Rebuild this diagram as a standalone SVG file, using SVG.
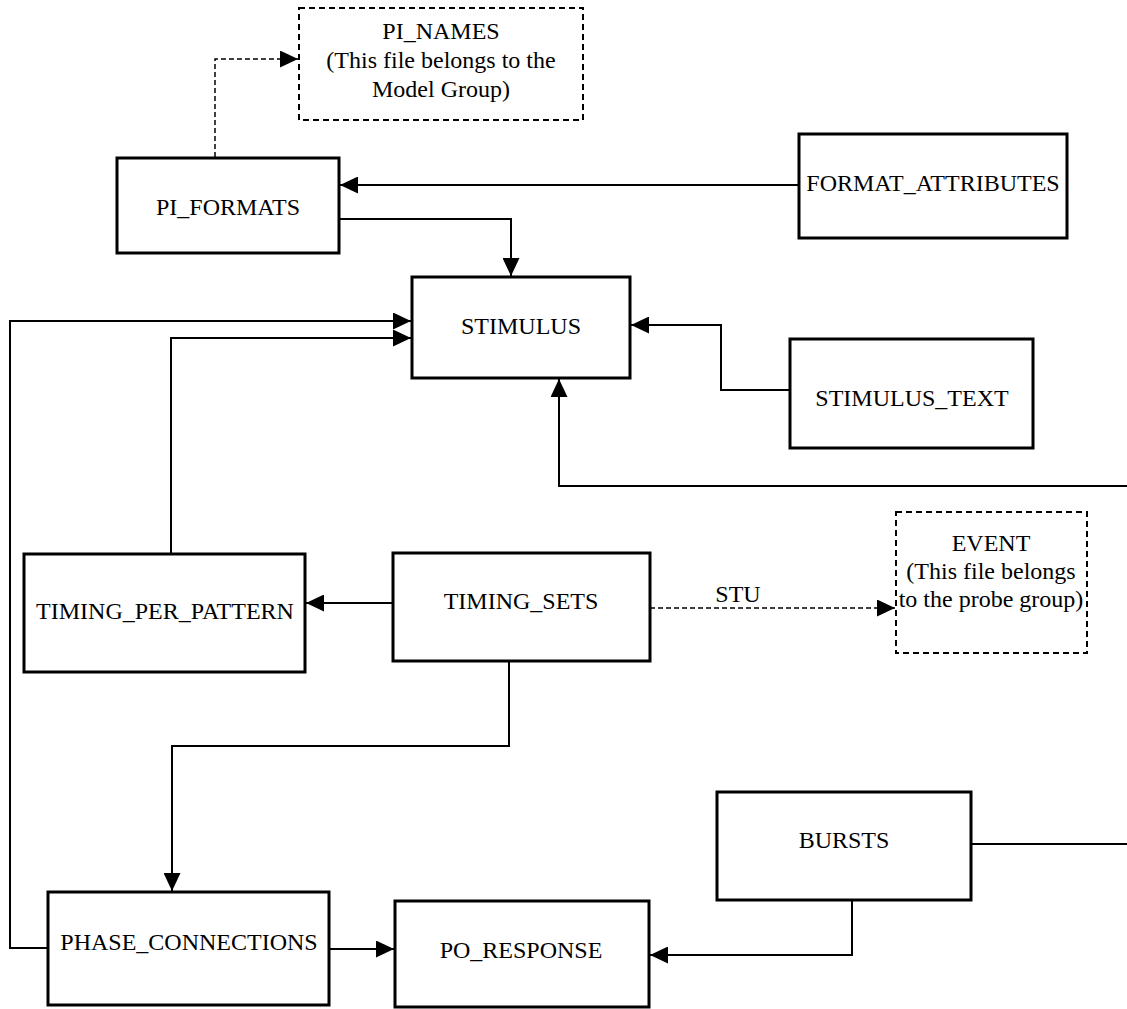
<svg xmlns="http://www.w3.org/2000/svg" width="1127" height="1009" viewBox="0 0 1127 1009">
<style>
.box{fill:#fff;stroke:#000;stroke-width:3}
.dbox{fill:#fff;stroke:#000;stroke-width:2;stroke-dasharray:6 4}
.t{font-family:"Liberation Serif","Times New Roman",serif;font-size:24px;fill:#000;text-anchor:middle}
.c{fill:none;stroke:#000;stroke-width:2}
.dc{fill:none;stroke:#000;stroke-width:1.5;stroke-dasharray:5 3}
</style>
<defs>
<marker id="arr" viewBox="0 0 18 17" refX="18" refY="8.5" markerWidth="18" markerHeight="17" markerUnits="userSpaceOnUse" orient="auto">
<path d="M0,0 L18,8.5 L0,17 z" fill="#000"/>
</marker>
</defs>
<rect width="1127" height="1009" fill="#fff"/>
<g id="connectors">
<path class="c" d="M799,185 H340" marker-end="url(#arr)"/>
<path class="c" d="M339,219 H511 V276" marker-end="url(#arr)"/>
<path class="dc" d="M215,157 V59 H298" marker-end="url(#arr)"/>
<path class="c" d="M48,948 H10 V321 H411" marker-end="url(#arr)"/>
<path class="c" d="M171,554 V338 H411" marker-end="url(#arr)"/>
<path class="c" d="M790,390 H721 V325 H631" marker-end="url(#arr)"/>
<path class="c" d="M971,844 H1140 V486 H559 V379" marker-end="url(#arr)"/>
<path class="c" d="M393,603 H306" marker-end="url(#arr)"/>
<path class="dc" d="M650,608 H895" marker-end="url(#arr)"/>
<text class="t" x="738" y="602">STU</text>
<path class="c" d="M509,661 V746 H172 V891" marker-end="url(#arr)"/>
<path class="c" d="M329,949 H394" marker-end="url(#arr)"/>
<path class="c" d="M852,900 V955 H650" marker-end="url(#arr)"/>
</g>
<g id="pi_names">
<rect class="dbox" x="299" y="8" width="284" height="112"/>
<text class="t" x="441" y="39">PI_NAMES</text>
<text class="t" x="441" y="68">(This file belongs to the</text>
<text class="t" x="441" y="97">Model Group)</text>
</g>
<g id="pi_formats">
<rect class="box" x="117" y="158" width="222" height="95"/>
<text class="t" x="228" y="215">PI_FORMATS</text>
</g>
<g id="format_attributes">
<rect class="box" x="799" y="134" width="268" height="104"/>
<text class="t" x="933" y="191">FORMAT_ATTRIBUTES</text>
</g>
<g id="stimulus">
<rect class="box" x="412" y="277" width="218" height="101"/>
<text class="t" x="521" y="334">STIMULUS</text>
</g>
<g id="stimulus_text">
<rect class="box" x="790" y="339" width="243" height="109"/>
<text class="t" x="912" y="406">STIMULUS_TEXT</text>
</g>
<g id="timing_per_pattern">
<rect class="box" x="24" y="554" width="281" height="118"/>
<text class="t" x="165" y="619">TIMING_PER_PATTERN</text>
</g>
<g id="timing_sets">
<rect class="box" x="393" y="553" width="257" height="108"/>
<text class="t" x="521" y="609">TIMING_SETS</text>
</g>
<g id="event">
<rect class="dbox" x="896" y="512" width="191" height="141"/>
<text class="t" x="991" y="551">EVENT</text>
<text class="t" x="991" y="579">(This file belongs</text>
<text class="t" x="991" y="607">to the probe group)</text>
</g>
<g id="phase_connections">
<rect class="box" x="48" y="892" width="281" height="113"/>
<text class="t" x="189" y="950">PHASE_CONNECTIONS</text>
</g>
<g id="po_response">
<rect class="box" x="395" y="901" width="254" height="106"/>
<text class="t" x="521" y="958">PO_RESPONSE</text>
</g>
<g id="bursts">
<rect class="box" x="717" y="792" width="254" height="108"/>
<text class="t" x="844" y="848">BURSTS</text>
</g>
</svg>
